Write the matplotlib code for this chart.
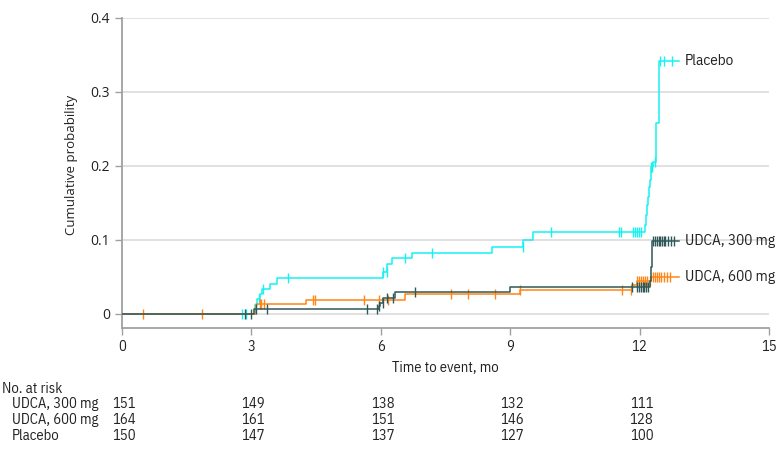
import matplotlib.pyplot as plt
import numpy as np

# cumulative incidence step data (time in months, probability)
placebo_t = [0, 3.08, 3.13, 3.2, 3.25, 3.43, 3.59, 6.06, 6.15, 6.25, 6.72, 8.58, 9.3, 9.52,
             12.13, 12.15, 12.17, 12.19, 12.21, 12.24, 12.26, 12.3, 12.37, 12.44, 12.91]
placebo_p = [0, 0.012, 0.02, 0.027, 0.034, 0.041, 0.048, 0.057, 0.068, 0.076, 0.083, 0.091, 0.0995, 0.111,
             0.12, 0.134, 0.147, 0.158, 0.172, 0.181, 0.199, 0.205, 0.258, 0.342, 0.342]
placebo_cens = [2.78, 2.87, 3.18, 3.28, 3.84, 6.06, 6.14, 6.55, 7.18, 9.29, 9.94, 11.53, 11.57,
                11.84, 11.9, 11.95, 11.98, 12.03, 12.27, 12.29, 12.36, 12.48, 12.56, 12.75]

udca300_t = [0, 3.05, 5.95, 5.98, 6.06, 6.33, 8.99, 12.25, 12.27, 12.29, 12.91]
udca300_p = [0, 0.0066, 0.011, 0.0145, 0.021, 0.029, 0.036, 0.045, 0.064, 0.098, 0.098]
udca300_cens = [2.85, 2.99, 3.1, 3.36, 5.68, 5.91, 5.95, 6.04, 6.15, 6.28, 6.8, 11.82, 11.93,
                11.98, 12.03, 12.07, 12.11, 12.15, 12.2, 12.32, 12.36, 12.4, 12.44, 12.48,
                12.52, 12.56, 12.6, 12.66, 12.72, 12.79]

udca600_t = [0, 3.11, 4.27, 6.55, 9.22, 11.82, 11.93, 12.26, 12.91]
udca600_p = [0, 0.013, 0.019, 0.0266, 0.0324, 0.039, 0.045, 0.05, 0.05]
udca600_cens = [0.48, 1.85, 3.19, 3.22, 3.29, 4.42, 4.48, 5.6, 5.95, 6.16, 7.63, 8.02, 8.65, 9.23,
                11.59, 11.79, 11.93, 11.98, 12.03, 12.08, 12.13, 12.18, 12.23, 12.31, 12.35,
                12.4, 12.44, 12.5, 12.56, 12.63, 12.71]

risk_times = [0, 3, 6, 9, 12]
risk_groups = ['UDCA, 300 mg', 'UDCA, 600 mg', 'Placebo']
risk_counts = [[151, 149, 138, 132, 111],
               [164, 161, 151, 146, 128],
               [150, 147, 137, 127, 100]]

narrow = ['IBM Plex Sans Condensed', 'Roboto Condensed', 'PT Sans Narrow', 'DejaVu Sans']
plain = ['Open Sans', 'DejaVu Sans']
ink = '#222222'

fig = plt.figure(figsize=(7.8, 4.54), dpi=100)
ax = fig.add_axes([0.1564, 0.2775, 0.8295, 0.6829])

curves = [
    (placebo_t, placebo_p, placebo_cens, '#14f2f2', 'Placebo'),
    (udca600_t, udca600_p, udca600_cens, '#ff8515', 'UDCA, 600 mg'),
    (udca300_t, udca300_p, udca300_cens, '#2f5959', 'UDCA, 300 mg'),
]
for t, p, cens, col, name in curves:
    t = np.array(t)
    p = np.array(p)
    ax.plot(t, p, drawstyle='steps-post', color=col, lw=1.1, zorder=3)
    idx = np.searchsorted(t, cens, side='right') - 1
    ax.plot(cens, p[idx], ls='none', marker='|', ms=6.5, mew=1.0, color=col, zorder=3)
    ax.text(t[-1] + 0.14, p[-1], name, va='center', ha='left', fontsize=11,
            family=narrow, color=ink)

ax.set_xlim(0, 15)
ax.set_ylim(-0.019, 0.4)
ax.set_xticks([0, 3, 6, 9, 12, 15])
ax.set_yticks([0, 0.1, 0.2, 0.3, 0.4])
ax.set_yticklabels(['0', '0.1', '0.2', '0.3', '0.4'])
ax.grid(axis='y', color='#dedede', lw=1.3, zorder=0)
for s in ['top', 'right']:
    ax.spines[s].set_visible(False)
for s in ['left', 'bottom']:
    ax.spines[s].set_color('#a0a0a0')
    ax.spines[s].set_linewidth(1.3)
ax.tick_params(colors='#a0a0a0', length=5, width=1, labelcolor=ink, labelsize=10)
for lab in ax.get_yticklabels():
    lab.set_family(plain)
for lab in ax.get_xticklabels():
    lab.set_family(narrow)
    lab.set_fontsize(10.5)
ax.set_xlabel('Time to event, mo', family=narrow, fontsize=10.5, color=ink, labelpad=5)
ax.set_ylabel('Cumulative probability', family=plain, fontsize=9.5, color=ink, labelpad=10)
ax.yaxis.set_label_coords(-0.068, 0.525)

# number at risk table
fig.text(0.003, 1 - 389 / 454, 'No. at risk', family=narrow, fontsize=10.5, va='center', color=ink)
for i, grp in enumerate(risk_groups):
    y = 1 - (404 + 16 * i) / 454
    fig.text(12 / 780, y, grp, family=narrow, fontsize=10.5, va='center', color=ink)
    for tt, n in zip(risk_times, risk_counts[i]):
        xf = fig.transFigure.inverted().transform(ax.transData.transform((tt, 0)))[0]
        fig.text(xf + 2 / 780, y, str(n), family=narrow, fontsize=10.5, va='center', ha='center',
                 color=ink)

fig.savefig('out.png', dpi=100)
